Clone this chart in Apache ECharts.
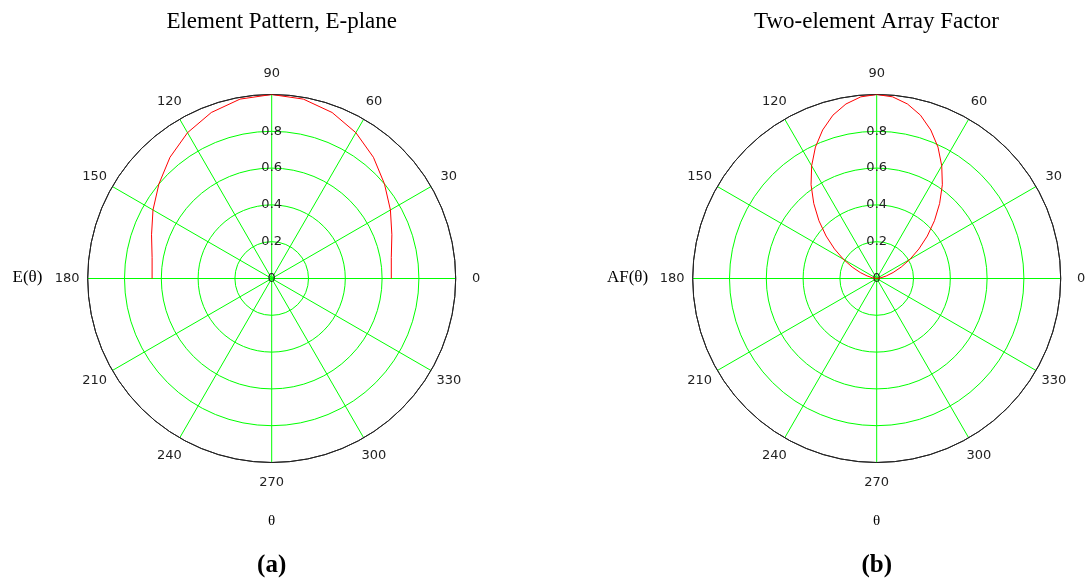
<!DOCTYPE html>
<html>
<head>
<meta charset="utf-8">
<script src="https://cdn.jsdelivr.net/npm/echarts@6/dist/echarts.min.js"></script>
<style>
html,body{margin:0;padding:0;background:#fff;}
#chart{width:1086px;height:586px;}
</style>
</head>
<body>
<div id="chart"></div>
<script>
// ---- data ----
const elementTheta = [0,10,20,30,40,50,60,70,80,90,100,110,120,130,140,150,160,170,180];
const elementE     = [0.65,0.66,0.695,0.745,0.80,0.86,0.915,0.96,0.99,1.0,0.99,0.96,0.915,0.86,0.80,0.745,0.695,0.66,0.65];

const afTheta = [0,5,10,15,20,25,30,35,40,45,50,55,60,65,70,75,80,85,90,95,100,105,110,115,120,125,130,135,140,145,150,155,160,165,170,175,180];
const afValue = [0,0.006,0.024,0.054,0.095,0.147,0.209,0.280,0.359,0.444,0.532,0.622,0.707,0.788,0.859,0.919,0.963,0.991,1.0,0.991,0.963,0.919,0.859,0.788,0.707,0.622,0.532,0.444,0.359,0.280,0.209,0.147,0.095,0.054,0.024,0.006,0];

const angleTicks = [0,30,60,90,120,150,180,210,240,270,300,330];
const titles   = ['Element Pattern, E-plane', 'Two-element Array Factor'];
const yNames   = ['E(\u03B8)', 'AF(\u03B8)'];
const xName    = '\u03B8';
const captions = ['(a)', '(b)'];

// ---- layout ----
const centers = [[271.7, 278.5], [876.7, 278.5]];
const titleX = [281.7, 876.5];
const R = 184;
const GREEN = '#00ff00';
const numFont = 'DejaVu Sans';
const LABEL_MARGIN = -4;     // anchor radius = R + margin
const LABEL_DIST = 24.5;     // label centre sits this far beyond the anchor

// rich styles: a fixed box per angle so that each label is centred on its ray
const angleRich = {};
angleTicks.forEach(a => {
  const rad = a * Math.PI / 180;
  const c = Math.abs(Math.cos(rad)), s = Math.abs(Math.sin(rad));
  const w = c < 0.3 ? 30 : 2 * LABEL_DIST * c;
  const h = s < 0.3 ? 16 : 2 * LABEL_DIST * s;
  angleRich['a' + a] = {
    width: w, height: h, lineHeight: h, align: 'center', verticalAlign: 'middle',
    fontFamily: numFont, fontSize: 13, color: '#222'
  };
});

const chart = echarts.init(document.getElementById('chart'), null, {renderer:'canvas'});

function angleAxis(i){
  return {
    polarIndex: i, type: 'value', min: 90, max: 450, interval: 30,
    startAngle: 90, clockwise: false,
    axisLine: {show: true, lineStyle: {color: '#222', width: 1}},
    axisTick: {show: false},
    splitLine: {show: true, lineStyle: {color: GREEN, width: 1}},
    axisLabel: {
      formatter: v => { const a = v % 360; return '{a' + a + '|' + a + '}'; },
      margin: LABEL_MARGIN, rich: angleRich,
      color: '#222', fontFamily: numFont, fontSize: 13
    }
  };
}
function radiusAxis(i){
  return {
    polarIndex: i, type: 'value', min: 0, max: 1, interval: 0.2,
    axisLine: {show: false}, axisTick: {show: false},
    splitLine: {show: true, lineStyle: {color: [GREEN,GREEN,GREEN,GREEN,GREEN,'#222'], width: 1}},
    axisLabel: {
      showMaxLabel: false, margin: 0, align: 'center', verticalAlign: 'middle',
      color: '#222', fontFamily: numFont, fontSize: 13, padding: [0,0,4,0]
    },
    z: 5
  };
}

const graphics = [];
for (let i = 0; i < 2; i++) {
  const cx = centers[i][0];
  graphics.push({type:'text', x: titleX[i], y: 22, style:{text: titles[i], font: '23px "Liberation Serif"', fill:'#000', align:'center', verticalAlign:'middle'}});
  graphics.push({type:'text', x: cx, y: 521, style:{text: xName, font: '15px "Liberation Serif"', fill:'#000', align:'center', verticalAlign:'middle'}});
  graphics.push({type:'text', x: cx, y: 566, style:{text: captions[i], font: 'bold 25px "Liberation Serif"', fill:'#000', align:'center', verticalAlign:'middle'}});
}
graphics.push({type:'text', x: 27.5, y: 278, style:{text: yNames[0], font: '17px "Liberation Serif"', fill:'#000', align:'center', verticalAlign:'middle'}});
graphics.push({type:'text', x: 627.5, y: 278, style:{text: yNames[1], font: '17px "Liberation Serif"', fill:'#000', align:'center', verticalAlign:'middle'}});

chart.setOption({
  animation: false,
  backgroundColor: '#fff',
  polar: [{center: centers[0], radius: R}, {center: centers[1], radius: R}],
  angleAxis: [angleAxis(0), angleAxis(1)],
  radiusAxis: [radiusAxis(0), radiusAxis(1)],
  series: [
    {type:'line', coordinateSystem:'polar', polarIndex:0, showSymbol:false, clip:false,
     lineStyle:{color:'#ff0000', width:1}, data: elementTheta.map((t,k)=>[elementE[k], t]), z: 10},
    {type:'line', coordinateSystem:'polar', polarIndex:1, showSymbol:false, clip:false,
     lineStyle:{color:'#ff0000', width:1}, data: afTheta.map((t,k)=>[afValue[k], t]), z: 10}
  ],
  graphic: graphics
});
</script>
</body>
</html>
